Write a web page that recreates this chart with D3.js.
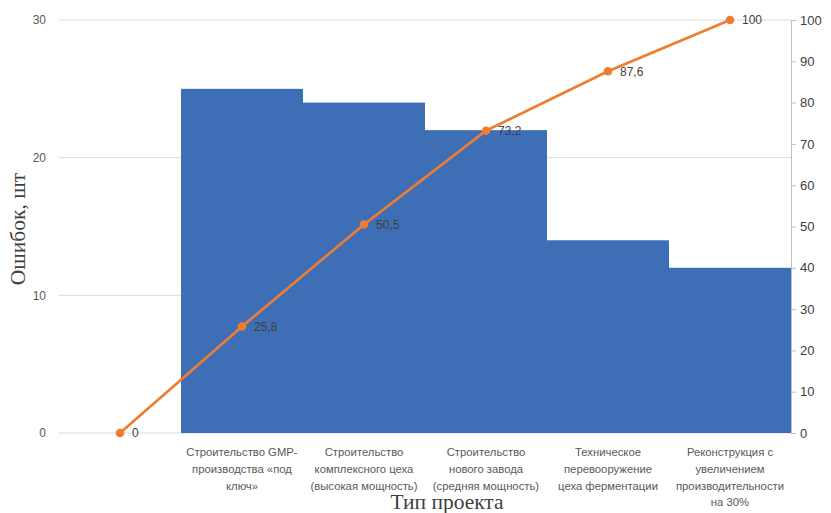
<!DOCTYPE html>
<html>
<head>
<meta charset="utf-8">
<script src="https://cdn.jsdelivr.net/npm/d3@7"></script>
<style>
  html, body { margin: 0; padding: 0; background: #fff; }
  svg { display: block; }
</style>
</head>
<body>
<svg id="chart" width="831" height="513"></svg>
<script>
// Project types (each label split into its display lines)
const categories = [
  ["Строительство GMP-", "производства «под", "ключ»"],
  ["Строительство", "комплексного цеха", "(высокая мощность)"],
  ["Строительство", "нового завода", "(средняя мощность)"],
  ["Техническое", "перевооружение", "цеха ферментации"],
  ["Реконструкция с", "увеличением", "производительности", "на 30%"]
];
// Number of errors per project type
const errors = [25, 24, 22, 14, 12];
// Cumulative share, %, starting from the empty leading slot
const cumulative = [0, 25.8, 50.5, 73.2, 87.6, 100];
const leftTicks = [0, 10, 20, 30];
const rightTicks = [0, 10, 20, 30, 40, 50, 60, 70, 80, 90, 100];

const svg = d3.select("#chart");
const plotLeft = 59, plotRight = 791, plotTop = 20, plotBottom = 433;

const keys = ["start", ...categories.map((c, i) => "c" + i)];
const x = d3.scaleBand().domain(keys).range([plotLeft, plotRight]).padding(0);
const yL = d3.scaleLinear().domain([0, 30]).range([plotBottom, plotTop]);
const yR = d3.scaleLinear().domain([0, 100]).range([plotBottom, plotTop]);

const labelFont = "Liberation Sans, Arial, sans-serif";

// Horizontal gridlines
svg.append("g").selectAll("line").data(leftTicks).join("line")
  .attr("x1", plotLeft).attr("x2", plotRight)
  .attr("y1", d => yL(d)).attr("y2", d => yL(d))
  .attr("stroke", "#d9d9d9").attr("stroke-width", 1);

// Bars
svg.append("g").selectAll("rect").data(errors).join("rect")
  .attr("x", (d, i) => x("c" + i))
  .attr("width", x.bandwidth())
  .attr("y", d => yL(d))
  .attr("height", d => yL(0) - yL(d))
  .attr("fill", "#3e6fb6");

// Left axis labels
const leftAxis = d3.axisLeft(yL).tickValues(leftTicks).tickSize(0).tickPadding(0);
const gl = svg.append("g").attr("transform", `translate(${plotLeft - 13},0)`).call(leftAxis);
gl.select(".domain").remove();
gl.selectAll("text").attr("fill", "#595959").style("font", `12px ${labelFont}`);

// Right axis
const rightAxis = d3.axisRight(yR).tickValues(rightTicks).tickSize(5).tickPadding(4);
const gr = svg.append("g").attr("transform", `translate(${plotRight},0)`).call(rightAxis);
gr.select(".domain").attr("stroke", "#bfbfbf");
gr.selectAll(".tick line").attr("stroke", "#bfbfbf");
gr.selectAll("text").attr("fill", "#404040").style("font", `13px ${labelFont}`);

// Category labels
const catG = svg.append("g");
categories.forEach((lines, i) => {
  const cxi = x("c" + i) + x.bandwidth() / 2;
  const t = catG.append("text")
    .attr("x", cxi)
    .attr("y", 456)
    .attr("text-anchor", "middle")
    .attr("fill", "#595959")
    .style("font", `11.3px ${labelFont}`);
  lines.forEach((ln, j) => {
    t.append("tspan").attr("x", cxi).attr("dy", j === 0 ? 0 : 16.8).text(ln);
  });
});

// Cumulative line
const cx = (d, i) => x(keys[i]) + x.bandwidth() / 2;
svg.append("path")
  .datum(cumulative)
  .attr("fill", "none")
  .attr("stroke", "#ed7d31")
  .attr("stroke-width", 2.7)
  .attr("d", d3.line().x(cx).y(d => yR(d)));

svg.append("g").selectAll("circle").data(cumulative).join("circle")
  .attr("cx", cx).attr("cy", d => yR(d)).attr("r", 4.3)
  .attr("fill", "#ed7d31");

svg.append("g").selectAll("text").data(cumulative).join("text")
  .attr("x", (d, i) => cx(d, i) + 12)
  .attr("y", d => yR(d))
  .attr("dy", "0.36em")
  .attr("fill", "#404040")
  .style("font", `12px ${labelFont}`)
  .text(d => String(d).replace(".", ","));

// Axis titles
svg.append("text")
  .attr("transform", `translate(25,229) rotate(-90)`)
  .attr("text-anchor", "middle")
  .attr("fill", "#404040")
  .style("font", "21.5px Liberation Serif, Times New Roman, serif")
  .text("Ошибок, шт");

svg.append("text")
  .attr("x", 447).attr("y", 509)
  .attr("text-anchor", "middle")
  .attr("fill", "#404040")
  .style("font", "21.5px Liberation Serif, Times New Roman, serif")
  .text("Тип проекта");
</script>
</body>
</html>
